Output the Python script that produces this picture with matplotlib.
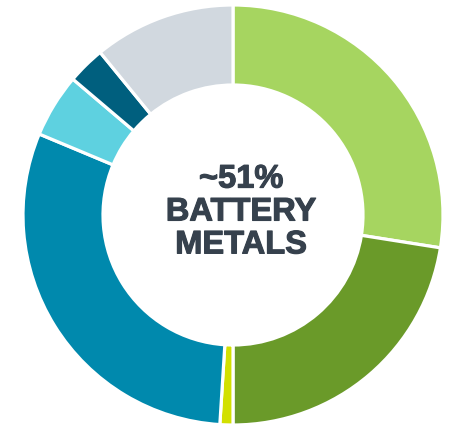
import matplotlib
matplotlib.use("Agg")
import matplotlib.pyplot as plt
import matplotlib.patheffects as pe

# slice shares (%), clockwise from 12 o'clock
shares = [27.5, 22.5, 1.0, 30.3, 4.9, 2.9, 10.9]
colors = ['#A6D560', '#6A9A29', '#D2E000', '#0089AD', '#5ED1E0', '#005F7E', '#D1D8DF']
center_label = "~51%\nBATTERY\nMETALS"

W, H = 449, 425
fig = plt.figure(figsize=(W / 100, H / 100), dpi=100)
ax = fig.add_axes([0, 0, 1, 1])

ax.pie(shares, colors=colors, startangle=90, counterclock=False,
       center=(233, H - 215), radius=210, frame=True,
       wedgeprops=dict(width=80, edgecolor='white', linewidth=2.3))

ax.text(241, H - 212, center_label, ha='center', va='center',
        fontsize=23.5, fontweight='bold', family='Liberation Sans',
        color='#36414D', linespacing=1.08,
        path_effects=[pe.withStroke(linewidth=0.8, foreground='#36414D')])

ax.set_xlim(0, W)
ax.set_ylim(0, H)
ax.set_aspect('equal')
ax.axis('off')

fig.savefig('out.png', dpi=100)
